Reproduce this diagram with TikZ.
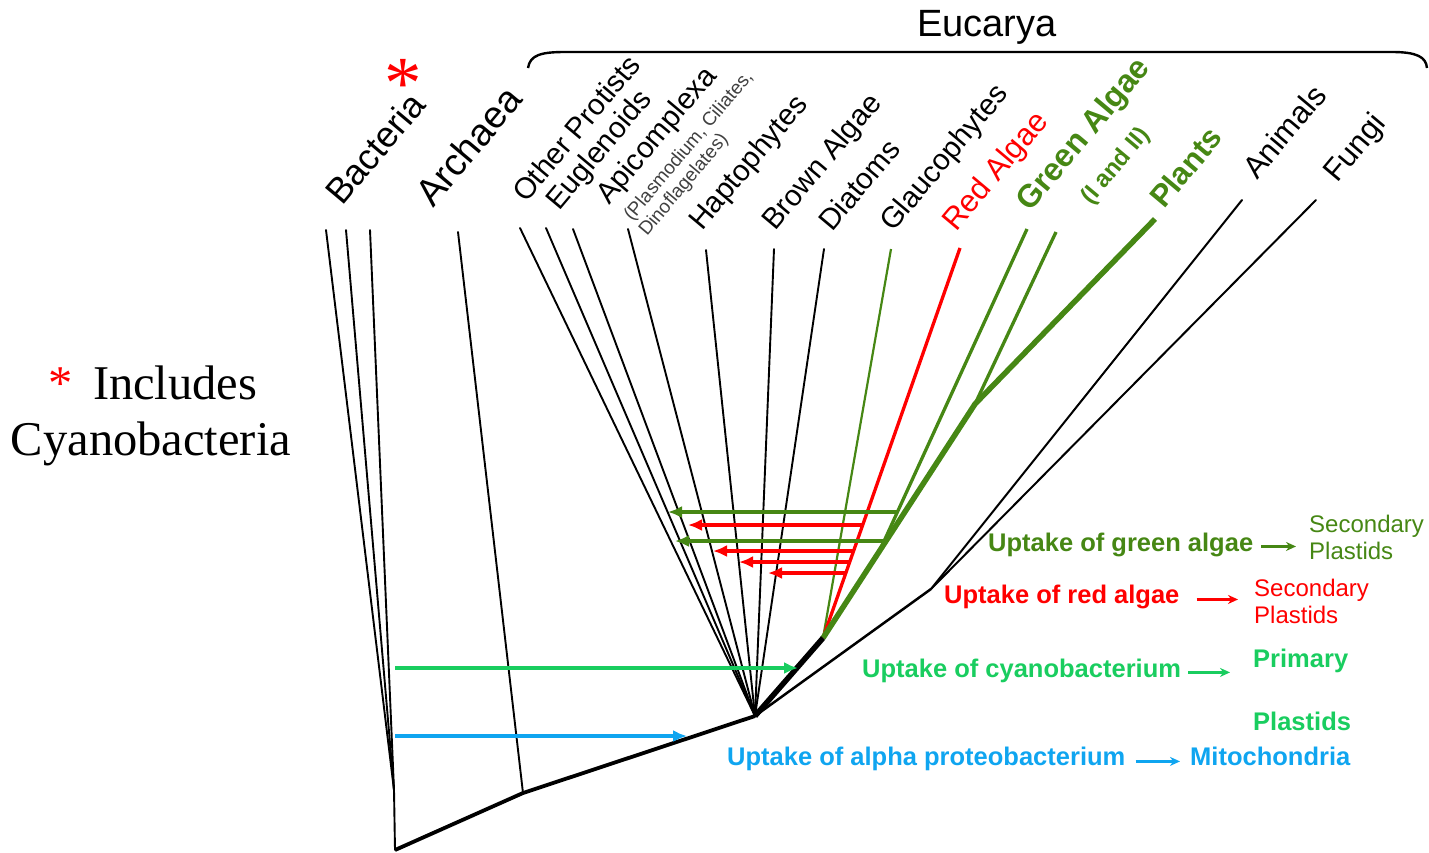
\documentclass[tikz,border=0pt]{standalone}
\usepackage{fontspec}
\setmainfont{Liberation Sans}
\newfontfamily\serifTNR{Liberation Serif}
\usetikzlibrary{arrows.meta}
\definecolor{dgreen}{RGB}{70,135,20}
\definecolor{cgreen}{RGB}{25,205,95}
\definecolor{cblue}{RGB}{15,165,240}
\definecolor{pred}{RGB}{255,0,0}
\begin{document}
\begin{tikzpicture}[x=1pt,y=-1pt,
  thinb/.style={line width=1.9pt, line cap=round},
  thickb/.style={line width=3.8pt, line join=round},
  lbl/.style={rotate=50, anchor=base west, inner sep=0pt, font=\fontsize{29.5}{29.5}\selectfont},
  lblr/.style={lbl, font=\fontsize{31}{31}\selectfont},
  biglbl/.style={lbl, font=\fontsize{36}{36}\selectfont},
  smalllbl/.style={lbl, text=black!75, font=\fontsize{19}{19}\selectfont},
  leg/.style={anchor=base west, inner sep=0pt, font=\bfseries\fontsize{25.5}{25.5}\selectfont},
  res/.style={anchor=base west, inner sep=0pt, align=left, font=\fontsize{24}{27}\selectfont},
  resb/.style={anchor=base west, inner sep=0pt, font=\bfseries\fontsize{25.5}{25.5}\selectfont},
  hgarrow/.style={dgreen, line width=3.4pt, -{Latex[length=14pt,width=12pt]}},
  hrarrow/.style={pred, line width=3.4pt, -{Latex[length=14pt,width=12pt]}},
  larrow/.style={line width=2.2pt, -{Stealth[length=10pt,width=9pt]}}
]
\useasboundingbox (0,0) rectangle (1429,852);

% ---------- tree coordinates ----------
\coordinate (root) at (395,850);
\coordinate (bac) at (394,790);
\coordinate (arc) at (523,793);
\coordinate (euk) at (755,716);
\coordinate (pl) at (823,638);
\coordinate (af) at (931,589);
\coordinate (g1) at (880,550);
\coordinate (g2) at (975,404);
\coordinate (b1) at (326,230);
\coordinate (b2) at (346,230);
\coordinate (b3) at (370,230);
\coordinate (a1) at (458,232);
\coordinate (t1) at (520,228);
\coordinate (t2) at (546,228);
\coordinate (t3) at (573,229);
\coordinate (t4) at (628,229);
\coordinate (t5) at (706,250);
\coordinate (t6) at (774,249);
\coordinate (t7) at (824,249);
\coordinate (gl) at (891,249);
\coordinate (rd) at (960,248);
\coordinate (ga1) at (1027,229);
\coordinate (ga2) at (1056,232);
\coordinate (pt) at (1155,219);
\coordinate (an) at (1242,200);
\coordinate (fu) at (1316,200);

% ---------- tree ----------
\foreach \t in {b1,b2,b3} \draw[thinb] (bac) -- (\t);
\draw[thinb] (root) -- (bac);
\draw[thinb] (arc) -- (a1);
\draw[thickb] (root) -- (arc) -- (euk);
\foreach \t in {t1,t2,t3,t4,t5,t6,t7} \draw[thinb] (euk) -- (\t);
\draw[line width=2.5pt] (euk) -- (af);
\draw[line width=2pt, line cap=round] (af) -- (an);
\draw[line width=2pt, line cap=round] (af) -- (fu);
\draw[dgreen, line width=2.2pt] (pl) -- (gl);
\draw[pred, line width=3.3pt] (pl) -- (rd);
\draw[dgreen, line width=3.3pt] (g1) -- (ga1);
\draw[dgreen, line width=3.3pt] (g2) -- (ga2);
\draw[dgreen, line width=5.5pt, line join=round] (pl) -- (g2) -- (pt);
\draw[line width=5.5pt] (euk) -- (pl);

% ---------- uptake arrows ----------
\coordinate (gs1) at (897,512); \coordinate (gt1) at (668,512);
\coordinate (rs1) at (863,525); \coordinate (rt1) at (688,525);
\coordinate (gs2) at (884,541); \coordinate (gt2) at (675,541);
\coordinate (rs2) at (854,551); \coordinate (rt2) at (713,551);
\coordinate (rs3) at (850,562); \coordinate (rt3) at (739,562);
\coordinate (rs4) at (846,573); \coordinate (rt4) at (768,573);
\draw[hgarrow] (gs1) -- (gt1);
\draw[hrarrow] (rs1) -- (rt1);
\draw[hgarrow] (gs2) -- (gt2);
\draw[hrarrow] (rs2) -- (rt2);
\draw[hrarrow] (rs3) -- (rt3);
\draw[hrarrow] (rs4) -- (rt4);
\coordinate (cs) at (395,668); \coordinate (ct) at (798,668);
\coordinate (bs) at (395,736); \coordinate (bt) at (687,736);
\draw[cgreen, line width=3.4pt, -{Latex[length=14pt,width=12pt]}] (cs) -- (ct);
\draw[cblue, line width=3.4pt, -{Latex[length=14pt,width=12pt]}] (bs) -- (bt);

% ---------- Eucarya brace ----------
\coordinate (brl) at (528,68);
\coordinate (brr) at (1427,68);
\draw[line width=2.4pt] (brl) .. controls (530,55) and (541,52) .. (565,52) -- (1392,52) .. controls (1417,52) and (1426,57) .. (brr);
\node[font=\fontsize{38}{38}\selectfont] (euc) at (987,27) {Eucarya};

% ---------- labels ----------
\node[biglbl] (lbac) at (342,207) {Bacteria};
\node[text=pred, font=\serifTNR\fontsize{75}{75}\selectfont, inner sep=0pt] (ast) at (403,84) {*};
\node[biglbl, font=\fontsize{38}{38}\selectfont] (larc) at (433,209) {Archaea};
\node[lbl] (lop) at (526,204) {Other Protists};
\node[lbl] (leu) at (559,212) {Euglenoids};
\node[lbl] (lap) at (609,206) {Apicomplexa};
\node[smalllbl] (lpl) at (632,222) {(Plasmodium, Ciliates,};
\node[smalllbl] (ldi) at (647,237) {Dinoflagelates)};
\node[lbl] (lha) at (702,232) {Haptophytes};
\node[lbl] (lbr) at (775,232) {Brown Algae};
\node[lbl] (ldt) at (832,233) {Diatoms};
\node[lbl] (lgl) at (893,233) {Glaucophytes};
\node[lblr, text=pred] (lrd) at (956,233) {Red Algae};
\node[lbl, text=dgreen, font=\bfseries\fontsize{32}{32}\selectfont] (lga) at (1030,213) {Green Algae};
\node[lbl, text=dgreen, font=\bfseries\fontsize{24}{24}\selectfont] (lgi) at (1091,206) {(I and II)};
\node[lbl, text=dgreen, font=\bfseries\fontsize{31}{31}\selectfont] (lpt) at (1164,210) {Plants};
\node[lblr] (lan) at (1257,181) {Animals};
\node[lblr] (lfu) at (1337,184) {Fungi};

% ---------- left note ----------
\node[anchor=base, inner sep=0pt, font=\serifTNR\fontsize{48.5}{48.5}\selectfont] (inc) at (153,399) {\textcolor{pred}{*}\hspace{8pt} Includes};
\node[anchor=base, inner sep=0pt, font=\serifTNR\fontsize{48.5}{48.5}\selectfont] (cya) at (151,455) {Cyanobacteria};

% ---------- legend ----------
\node[leg, text=dgreen] (ug) at (988,551) {Uptake of green algae};
\node[res, text=dgreen] (sg) at (1309,559) {Secondary\\Plastids};
\draw[larrow, dgreen] ([xshift=8pt,yshift=-2pt]ug.east) -- ([xshift=-13pt,yshift=-2pt]ug.east -| sg.west);

\node[leg, text=pred] (ur) at (944,603) {Uptake of red algae};
\node[res, text=pred] (sr) at (1254,623) {Secondary\\Plastids};
\draw[larrow, pred] ([xshift=17pt,yshift=-3pt]ur.east) -- ([xshift=-16pt,yshift=-3pt]ur.east -| sr.west);

\node[leg, text=cgreen] (uc) at (862,677) {Uptake of cyanobacterium};
\node[resb, text=cgreen] (pc) at (1253,667) {Primary};
\node[resb, text=cgreen] (pp) at (1253,730) {Plastids};
\draw[larrow, cgreen] ([xshift=7pt,yshift=-2pt]uc.east) -- ([xshift=-23pt,yshift=-2pt]uc.east -| pc.west);

\node[leg, text=cblue] (ua) at (727,765) {Uptake of alpha proteobacterium};
\node[resb, text=cblue] (mi) at (1190,765) {Mitochondria};
\draw[larrow, cblue] ([xshift=10pt,yshift=-3pt]ua.east) -- ([xshift=-10pt,yshift=-3pt]ua.east -| mi.west);
\end{tikzpicture}
\end{document}
